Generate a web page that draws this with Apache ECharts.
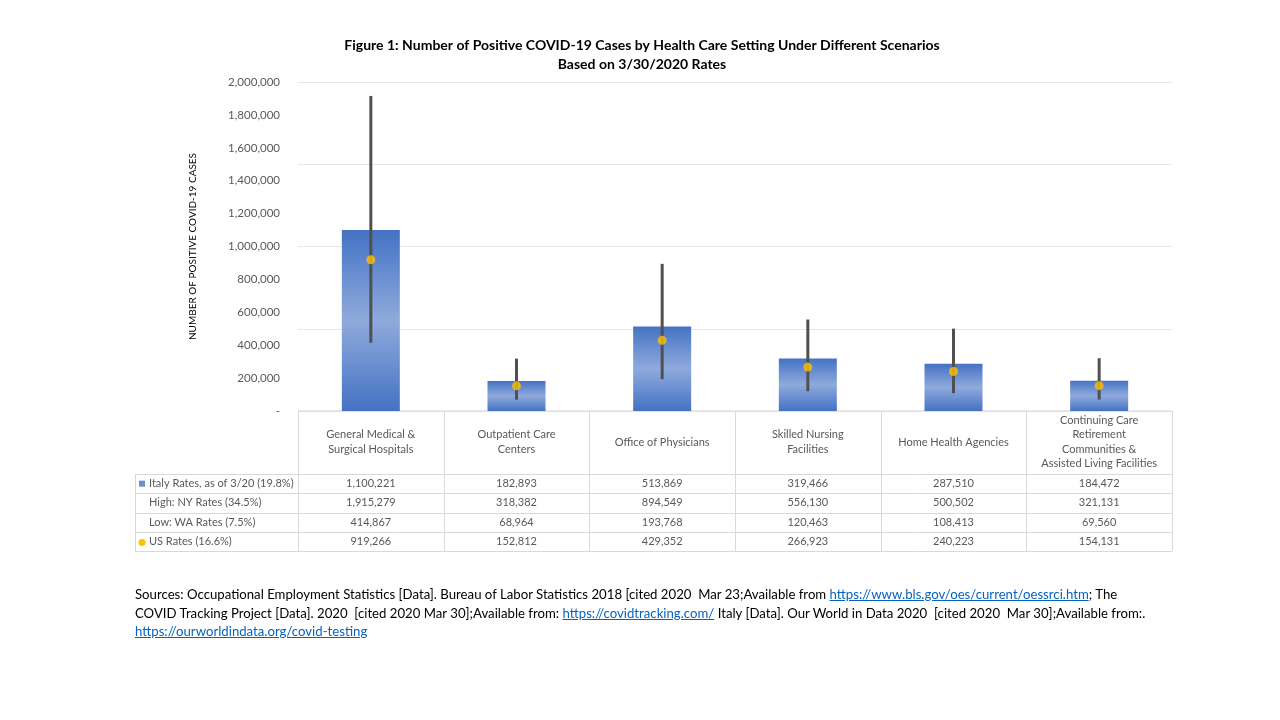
<!DOCTYPE html>
<html lang="en">
<head>
    <meta charset="UTF-8">
    <title>Positive COVID-19 Cases by Health Care Setting</title>
    <script src="https://cdn.jsdelivr.net/npm/echarts@6.0.0/dist/echarts.min.js"></script>
    <style>
        html, body { margin: 0; padding: 0; background: #fff; }
        #main { width: 1280px; height: 720px; position: relative; }
        #sources {
            position: absolute; left: 135px; top: 585px;
            font-family: Lato, "Open Sans", sans-serif; font-size: 13.2px; line-height: 18.5px;
            color: #000; white-space: nowrap;
        }
        #sources a { color: #0563C1; text-decoration: underline; }
    </style>
</head>
<body>
    <div id="main"></div>
    <div id="sources">
        Sources: Occupational Employment Statistics [Data]. Bureau of Labor Statistics 2018 [cited 2020&nbsp; Mar 23;Available from <a>https://www.bls.gov/oes/current/oessrci.htm</a>; The<br>
        COVID Tracking Project [Data]. 2020&nbsp; [cited 2020 Mar 30];Available from: <a>https://covidtracking.com/</a> Italy [Data]. Our World in Data 2020&nbsp; [cited 2020&nbsp; Mar 30];Available from:.<br>
        <a>https://ourworldindata.org/covid-testing</a>
    </div>

    <script>
        var categories = ['General Medical & Surgical Hospitals', 'Outpatient Care Centers', 'Office of Physicians',
            'Skilled Nursing Facilities', 'Home Health Agencies',
            'Continuing Care Retirement Communities & Assisted Living Facilities'];
        var headerLabels = ['General Medical &\nSurgical Hospitals', 'Outpatient Care\nCenters', 'Office of Physicians',
            'Skilled Nursing\nFacilities', 'Home Health Agencies',
            'Continuing Care\nRetirement\nCommunities &\nAssisted Living Facilities'];
        var italyRates = [1100221, 182893, 513869, 319466, 287510, 184472];
        var nyRates = [1915279, 318382, 894549, 556130, 500502, 321131];
        var waRates = [414867, 68964, 193768, 120463, 108413, 69560];
        var usRates = [919266, 152812, 429352, 266923, 240223, 154131];
        var rowNames = ['Italy Rates, as of 3/20 (19.8%)', 'High: NY Rates (34.5%)', 'Low: WA Rates (7.5%)', 'US Rates (16.6%)'];
        var yTicks = [0, 2000000, 200000];   // min, max, interval

        var FONT = 'Lato, "Open Sans", sans-serif';
        var TXT = '#595959';
        var gridL = 298, gridR = 1172, gridT = 82, gridB = 411;
        var tableLeft = 135, headerBottom = 474, rowH = 19.3;

        var chart = echarts.init(document.getElementById('main'));

        var errData = categories.map(function (c, i) { return [i, waRates[i], nyRates[i]]; });

        chart.setOption({
            animation: false,
            grid: { left: gridL, right: 1280 - gridR, top: gridT, bottom: 720 - gridB },
            xAxis: {
                type: 'category',
                data: categories,
                axisLine: { show: false },
                axisTick: { show: false },
                axisLabel: {
                    interval: 0, hideOverlap: false,
                    margin: 31, verticalAlign: 'middle', lineHeight: 14.5,
                    fontFamily: FONT, fontSize: 11, color: TXT,
                    formatter: function (v, i) { return headerLabels[i]; }
                }
            },
            yAxis: [{
                type: 'value', min: yTicks[0], max: yTicks[1], interval: yTicks[2],
                name: 'NUMBER OF POSITIVE COVID-19 CASES',
                nameLocation: 'middle', nameGap: 100,
                nameTextStyle: { fontFamily: FONT, fontSize: 10, color: '#000' },
                axisLine: { show: false }, axisTick: { show: false },
                splitLine: { show: false },
                axisLabel: {
                    margin: 18, fontFamily: FONT, fontSize: 11.5, color: TXT,
                    formatter: function (v) { return v === 0 ? '-' : v.toLocaleString('en-US'); }
                }
            }, {
                type: 'value', min: 0, max: 2000000, interval: 500000,
                position: 'left',
                axisLine: { show: false }, axisTick: { show: false }, axisLabel: { show: false },
                splitLine: { lineStyle: { color: '#e6e6e6', width: 1 } }
            }],
            series: [{
                name: rowNames[0],
                type: 'bar',
                data: italyRates,
                barWidth: 58,
                itemStyle: {
                    color: new echarts.graphic.LinearGradient(0, 0, 0, 1, [
                        { offset: 0, color: '#4472C4' },
                        { offset: 0.5, color: '#8FAADC' },
                        { offset: 1, color: '#4472C4' }
                    ])
                },
                z: 2
            }, {
                name: 'Range',
                type: 'custom',
                data: errData,
                encode: { x: 0, y: [1, 2] },
                renderItem: function (params, api) {
                    var lo = api.coord([api.value(0), api.value(1)]);
                    var hi = api.coord([api.value(0), api.value(2)]);
                    return {
                        type: 'line',
                        shape: { x1: lo[0], y1: lo[1], x2: hi[0], y2: hi[1] },
                        style: { stroke: '#505050', lineWidth: 3 }
                    };
                },
                z: 3
            }, {
                name: rowNames[3],
                type: 'scatter',
                data: usRates,
                symbol: 'circle',
                symbolSize: 9,
                itemStyle: { color: '#FFC000' },
                z: 4
            }]
        });

        // title + data table under the plot
        function buildGraphics() {
            var els = [];
            els.push({ type: 'text', x: 642, y: 36,
                style: { text: 'Figure 1: Number of Positive COVID-19 Cases by Health Care Setting Under Different Scenarios\nBased on 3/30/2020 Rates',
                    fontFamily: FONT, fontSize: 14, fontWeight: 'bold', fill: '#000', lineHeight: 19, align: 'center' } });

            var rows = [italyRates, nyRates, waRates, usRates];
            var nRows = rows.length;
            var tableBottom = headerBottom + nRows * rowH;
            var colW = (gridR - gridL) / categories.length;
            var line = function (x1, y1, x2, y2) {
                els.push({ type: 'line', shape: { x1: x1, y1: y1, x2: x2, y2: y2 },
                    style: { stroke: '#d9d9d9', lineWidth: 1 }, silent: true });
            };
            line(gridL, gridB, gridR, gridB);
            for (var r = 0; r <= nRows; r++) {
                var y = Math.round(headerBottom + r * rowH) + 0.5;
                line(tableLeft, y, gridR, y);
            }
            line(tableLeft + 0.5, headerBottom, tableLeft + 0.5, tableBottom);
            for (var k = 0; k <= categories.length; k++) {
                var x = Math.round(gridL + k * colW) + 0.5;
                line(x, gridB, x, tableBottom);
            }
            rows.forEach(function (vals, r) {
                var cy = headerBottom + (r + 0.5) * rowH;
                els.push({ type: 'text', x: 149, y: cy,
                    style: { text: rowNames[r], fontFamily: FONT, fontSize: 11, fill: TXT, verticalAlign: 'middle' } });
                vals.forEach(function (v, i) {
                    var cx = chart.convertToPixel({ xAxisIndex: 0 }, i);
                    els.push({ type: 'text', x: cx, y: cy,
                        style: { text: v.toLocaleString('en-US'), fontFamily: FONT, fontSize: 11, fill: TXT,
                            align: 'center', verticalAlign: 'middle' } });
                });
            });
            // legend keys
            els.push({ type: 'rect', shape: { x: 139, y: headerBottom + rowH / 2 - 3, width: 6, height: 6 },
                style: { fill: '#6A8ED0' } });
            els.push({ type: 'circle', shape: { cx: 142, cy: headerBottom + 3.5 * rowH + 1, r: 3.5 },
                style: { fill: '#FFC000' } });
            return els;
        }
        chart.setOption({ graphic: buildGraphics() });
    </script>
</body>
</html>
